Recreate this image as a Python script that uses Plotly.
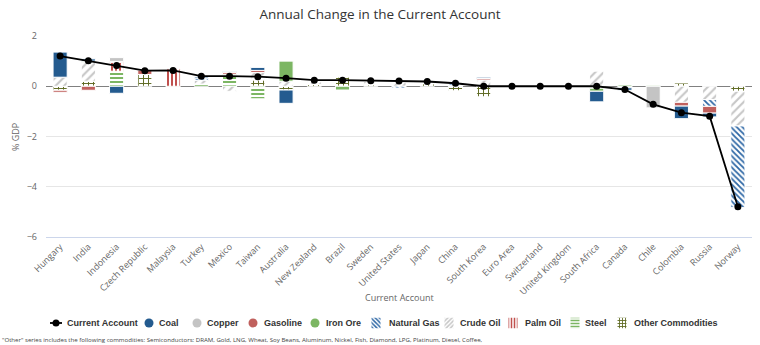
import plotly.graph_objects as go

W, H = 760, 345

countries = ["Hungary", "India", "Indonesia", "Czech Republic", "Malaysia", "Turkey", "Mexico",
             "Taiwan", "Australia", "New Zealand", "Brazil", "Sweden", "United States", "Japan",
             "China", "South Korea", "Euro Area", "Switzerland", "United Kingdom", "South Africa",
             "Canada", "Chile", "Colombia", "Russia", "Norway"]

current_account = [1.2, 1.01, 0.83, 0.62, 0.63, 0.4, 0.4, 0.38, 0.32, 0.24, 0.24, 0.22, 0.21,
                   0.19, 0.12, 0.0, 0.0, 0.0, 0.0, 0.0, -0.13, -0.72, -1.05, -1.19, -4.8]

# commodity contributions, % of GDP (None = no contribution)
coal =        [1.0, 0.09, -0.28, None, None, 0.05, 0.03, 0.12, -0.53, None, None, None, None,
               None, None, 0.05, None, None, None, -0.42, -0.1, None, -0.5, -0.15, None]
copper =      [None, None, 0.15, None, None, None, None, None, None, None, None, None, None,
               None, None, None, None, None, None, None, None, -0.86, None, None, None]
gasoline =    [-0.08, -0.16, 0.04, 0.17, None, None, 0.07, 0.08, None, None, None, None, None,
               None, None, 0.06, None, None, None, None, None, None, -0.15, -0.27, None]
iron_ore =    [None, 0.04, None, None, None, None, None, None, 0.8, None, -0.15, None, None,
               None, None, None, None, None, None, -0.12, 0.05, None, None, None, None]
natural_gas = [None, None, None, None, None, 0.08, None, None, None, None, None, None, -0.07,
               None, 0.06, None, None, None, None, None, -0.06, None, None, -0.27, -3.25]
crude_oil =   [0.36, 0.76, None, None, None, 0.15, -0.2, 0.3, 0.2, 0.13, None, 0.1, 0.16,
               None, 0.04, 0.25, None, None, None, 0.6, None, None, -0.64, -0.53, -1.38]
palm_oil =    [None, None, 0.35, None, 0.69, None, None, None, None, None, None, None, None,
               None, None, None, None, None, None, None, None, None, None, None, None]
steel =       [None, None, 0.6, None, -0.13, 0.09, 0.48, -0.5, None, None, 0.06, 0.03, None,
               0.04, None, None, None, None, None, None, None, 0.04, None, None, None]
other =       [-0.16, 0.2, None, 0.47, None, None, None, 0.25, -0.15, 0.07, 0.37, 0.06, None,
               0.1, -0.18, -0.42, None, None, None, -0.08, None, None, 0.13, None, -0.2]

series_names = ["Coal", "Copper", "Gasoline", "Iron Ore", "Natural Gas", "Crude Oil",
                "Palm Oil", "Steel", "Other Commodities"]
series_values = [coal, copper, gasoline, iron_ore, natural_gas, crude_oil, palm_oil, steel, other]

# fill style per series: (colour, pattern shape, pattern size, solidity)
styles = {
    "Coal": ("#245b8f", "", 0, 0),
    "Copper": ("#c4c4c4", "", 0, 0),
    "Gasoline": ("#c0605d", "", 0, 0),
    "Iron Ore": ("#7cb663", "", 0, 0),
    "Natural Gas": ("#2f68a6", "\\", 4, 0.45),
    "Crude Oil": ("#c6c6c6", "/", 6, 0.35),
    "Palm Oil": ("#c0504d", "|", 4, 0.5),
    "Steel": ("#7cb663", "-", 4, 0.5),
    "Other Commodities": ("#5f6a23", "+", 5, 0.35),
}


def bar_marker(name):
    color, shape, size, solidity = styles[name]
    if not shape:
        return dict(color=color, line=dict(color="white", width=1))
    return dict(color="white", line=dict(color="white", width=1),
                pattern=dict(shape=shape, fgcolor=color, bgcolor="white", size=size,
                             solidity=solidity, fillmode="replace"))


fig = go.Figure()

# last series sits nearest the zero line, so stack in reverse order
for name, vals in reversed(list(zip(series_names, series_values))):
    fig.add_trace(go.Bar(x=countries, y=vals, name=name, marker=bar_marker(name),
                         showlegend=False, xaxis="x", yaxis="y"))

fig.add_trace(go.Scatter(x=countries, y=current_account, name="Current Account",
                         mode="lines+markers", line=dict(color="#000000", width=1.8),
                         marker=dict(color="#000000", size=7), showlegend=False,
                         xaxis="x", yaxis="y"))

# ---- custom legend row (pixel coordinates on a hidden axis pair) ----
leg_y = 323
icon_x = {"Current Account": 56, "Coal": 149, "Copper": 197, "Gasoline": 253, "Iron Ore": 315,
          "Natural Gas": 376, "Crude Oil": 449, "Palm Oil": 513, "Steel": 575,
          "Other Commodities": 622}
text_x = {"Current Account": 65, "Coal": 157, "Copper": 205, "Gasoline": 262, "Iron Ore": 324,
          "Natural Gas": 387, "Crude Oil": 458, "Palm Oil": 523, "Steel": 583,
          "Other Commodities": 632}

cx = icon_x["Current Account"]
fig.add_trace(go.Scatter(x=[cx - 6, cx + 6], y=[0, 0], mode="lines",
                         line=dict(color="#000000", width=1.8), showlegend=False,
                         hoverinfo="skip", xaxis="x2", yaxis="y2"))
fig.add_trace(go.Scatter(x=[cx], y=[0], mode="markers", marker=dict(color="#000000", size=7),
                         showlegend=False, hoverinfo="skip", xaxis="x2", yaxis="y2"))
for name in series_names:
    color, shape, size, solidity = styles[name]
    if not shape:
        fig.add_trace(go.Scatter(x=[icon_x[name]], y=[0], mode="markers",
                                 marker=dict(color=color, size=9), showlegend=False,
                                 hoverinfo="skip", xaxis="x2", yaxis="y2"))
    else:
        fig.add_trace(go.Bar(x=[icon_x[name]], y=[1.5], base=[-0.75], width=[9],
                             marker=dict(color="white", line=dict(width=0),
                                         pattern=dict(shape=shape, fgcolor=color, bgcolor="white",
                                                      size=3, solidity=0.5, fillmode="replace")),
                             showlegend=False, hoverinfo="skip", xaxis="x2", yaxis="y2"))

annotations = []
for name in ["Current Account"] + series_names:
    annotations.append(dict(x=text_x[name] / W, y=1 - leg_y / H, xref="paper", yref="paper",
                            text="<b>" + name + "</b>", showarrow=False, xanchor="left",
                            yanchor="middle",
                            font=dict(family="Liberation Sans", size=9, color="#333333")))

annotations += [
    dict(x=399 / W, y=1 - 297 / H, xref="paper", yref="paper", text="Current Account",
         showarrow=False, xanchor="center", yanchor="middle",
         font=dict(family="Open Sans", size=9, color="#666666")),
    dict(x=15 / W, y=1 - 137 / H, xref="paper", yref="paper", text="% GDP", textangle=-90,
         showarrow=False, xanchor="center", yanchor="middle",
         font=dict(family="Open Sans", size=9, color="#666666")),
    dict(x=0, y=1 - 339 / H, xref="paper", yref="paper",
         text='"Other" series includes the following commodities: Semiconductors: DRAM, Gold, LNG, '
              'Wheat, Soy Beans, Aluminum, Nickel, Fish, Diamond, LPG, Platinum, Diesel, Coffee,',
         showarrow=False, xanchor="left", yanchor="middle",
         font=dict(family="Open Sans", size=6.1, color="#444444")),
]

fig.update_layout(
    width=W, height=H,
    margin=dict(l=0, r=0, t=0, b=0, autoexpand=False),
    paper_bgcolor="white", plot_bgcolor="white",
    barmode="relative", bargap=0.5,
    title=dict(text="Annual Change in the Current Account", x=0.5, xanchor="center",
               y=1 - 14 / H, yanchor="middle", yref="container", automargin=False,
               font=dict(family="Open Sans", size=13.5, color="#333333")),
    xaxis=dict(domain=[46 / W, 752 / W], anchor="y", type="category", automargin=False,
               range=[-0.5, len(countries) - 0.5], tickangle=-45, showgrid=False,
               showline=True, linecolor="#ccd6eb", linewidth=1, ticks="",
               tickfont=dict(family="Open Sans", size=9, color="#666666")),
    yaxis=dict(domain=[1 - 237 / H, 1 - 36 / H], anchor="x", range=[-6, 2], dtick=2,
               automargin=False, showgrid=True, gridcolor="#e6e6e6", zeroline=True,
               zerolinecolor="#808080", zerolinewidth=1, showline=False, ticks="",
               ticklabelstandoff=8,
               tickfont=dict(family="Open Sans", size=9, color="#666666")),
    xaxis2=dict(domain=[0, 1], anchor="y2", range=[0, W], visible=False, fixedrange=True,
                automargin=False),
    yaxis2=dict(domain=[1 - 330 / H, 1 - 316 / H], anchor="x2", range=[-1, 1], visible=False,
                fixedrange=True, automargin=False),
    annotations=annotations,
    showlegend=False,
)

fig.write_html("out.html")
